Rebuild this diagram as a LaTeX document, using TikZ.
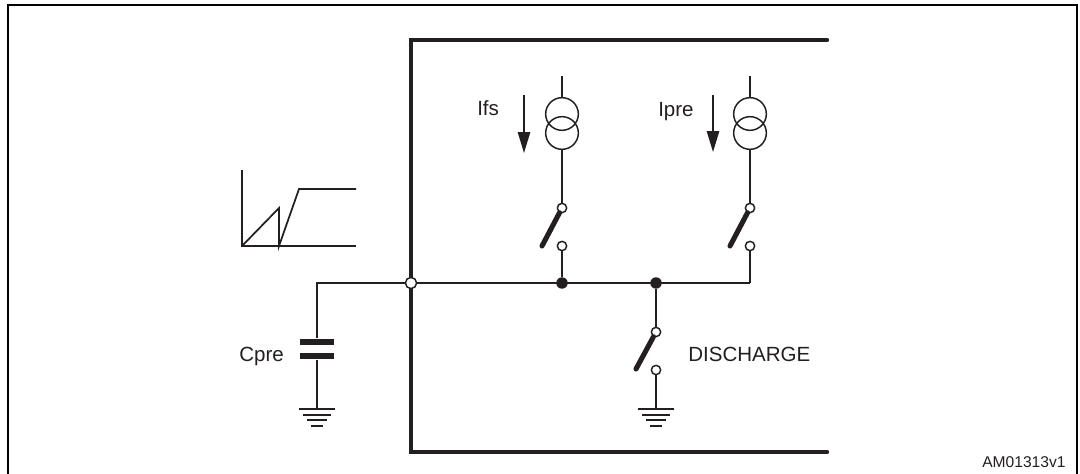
\documentclass[tikz,border=0pt]{standalone}
\usepackage{fontspec}
\setmainfont{Liberation Sans}
\usetikzlibrary{arrows.meta}
\definecolor{ink}{HTML}{231F20}

\begin{document}
\begin{tikzpicture}[x=0.75pt, y=-0.75pt, ink,
		wire/.style={draw=ink, line width=1.3pt},
		bus/.style={draw=ink, line width=3.3pt, line cap=round},
		blade/.style={draw=ink, line width=3.8pt, line cap=round},
		frame/.style={draw=black, line width=2.2pt},
		term/.style={circle, draw=ink, fill=white, line width=1.1pt, minimum size=7pt, inner sep=0pt},
		dot/.style={circle, fill=ink, minimum size=8.6pt, inner sep=0pt},
		src/.style={circle, draw=ink, line width=1.1pt, minimum size=24.5pt, inner sep=0pt},
		plate/.style={rectangle, fill=ink, minimum width=26pt, minimum height=5pt, inner sep=0pt},
		lbl/.style={text=ink, font=\fontsize{15.4}{18}\selectfont, inner sep=0pt},
		arr/.style={draw=ink, line width=1.1pt, -{Triangle[length=15.7pt, width=9.3pt]}}]
		\useasboundingbox (0,0) rectangle (1080,474);

		% outer frame
		\coordinate (FA) at (8,474);
		\coordinate (FB) at (8,5);
		\coordinate (FC) at (1077,5);
		\coordinate (FD) at (1077,474);
		\path[frame] (FA) -- (FB) -- (FC) -- (FD);

		% thick bus
		\coordinate (TR) at (827,40);
		\coordinate (TL) at (411,40);
		\coordinate (BL) at (411,452);
		\coordinate (BR) at (827,452);
		\path[bus] (TR) -- (TL) -- (BL) -- (BR);

		% waveform
		\coordinate (WT) at (242,170);
		\coordinate (WO) at (242,246);
		\coordinate (WE) at (356,246);
		\coordinate (WP) at (279,208);
		\coordinate (WQ) at (279,246);
		\coordinate (WR) at (299,189);
		\coordinate (WS) at (356,189);
		\path[wire] (WT) -- (WO) -- (WE);
		\path[wire] (WO) -- (WP) -- (WQ) -- (WR) -- (WS);

		% current sources
		\coordinate (VA) at (562,76);
		\node [src] (SA1) at (562,114) {};
		\node [src] (SA2) at (562,133) {};
		\coordinate (VB) at (750,76);
		\node [src] (SB1) at (750,114) {};
		\node [src] (SB2) at (750,133) {};

		% switches
		\node [term] (A1) at (562,208) {};
		\node [term] (A2) at (562,246) {};
		\coordinate (AF) at (542,246);
		\node [term] (B1) at (750,208) {};
		\node [term] (B2) at (750,246) {};
		\coordinate (BF) at (730,246);
		\node [term] (D1) at (656,332) {};
		\node [term] (D2) at (656,370) {};
		\coordinate (DF) at (636,369);

		% main rail
		\node [dot] (JA) at (562,283) {};
		\node [dot] (JB) at (656,283) {};
		\coordinate (RC) at (750,283);
		\coordinate (CC) at (317,283);
		\node [plate] (P1) at (317,342) {};
		\node [plate] (P2) at (317,356) {};

		% grounds
		\coordinate (GA) at (317,409);
		\coordinate (GB) at (656,409);

		\path[wire] (VA) edge (SA1);
		\path[wire] (SA2) edge (A1);
		\path[wire] (A2) edge (JA);
		\path[wire] (VB) edge (SB1);
		\path[wire] (SB2) edge (B1);
		\path[wire] (B2) edge (RC);
		\path[wire] (JB) edge (D1);
		\path[wire] (D2) edge (GB);
		\path[wire] (P2) edge (GA);
		\path[wire] (P1) -- (CC) -- (RC);
		\path[blade] (A1) edge (AF);
		\path[blade] (B1) edge (BF);
		\path[blade] (D1) edge (DF);

		\node [term, minimum size=8.4pt] (N) at (411,283) {};

		\foreach \g in {GA,GB} {
			\path[wire] (\g) +(-18,0) -- +(18,0);
			\path[wire] (\g) +(-14,6) -- +(14,6);
			\path[wire] (\g) +(-10,11) -- +(10,11);
			\path[wire] (\g) +(-6,17) -- +(6,17);
		}

		% current arrows
		\coordinate (IAT) at (524,95);
		\coordinate (IAE) at (524,153);
		\coordinate (IBT) at (713,95);
		\coordinate (IBE) at (713,152);
		\path[arr] (IAT) -- (IAE);
		\path[arr] (IBT) -- (IBE);

		\node [lbl, anchor=base west] (Ifs) at (477,116) {Ifs};
		\node [lbl, anchor=base west] (Ipre) at (658,117) {Ipre};
		\node [lbl, anchor=base west] (Cpre) at (239,361) {Cpre};
		\node [lbl, anchor=base west] (Dis) at (688,361) {DISCHARGE};
		\node [lbl, anchor=base west, font=\fontsize{11.7}{14}\selectfont] (Ref) at (982,467) {AM01313v1};
	\end{tikzpicture}
\end{document}
